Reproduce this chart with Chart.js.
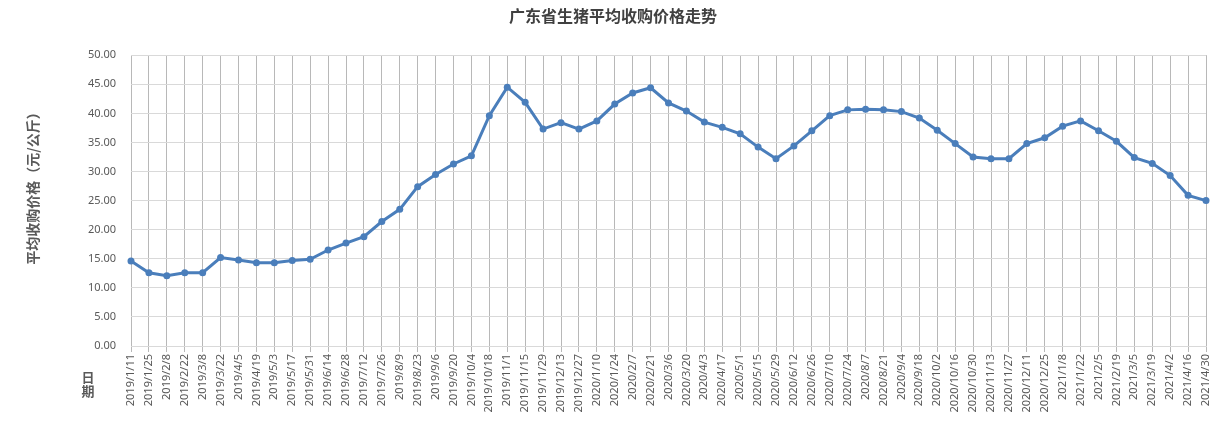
<!DOCTYPE html>
<html>
<head>
<meta charset="utf-8">
<script src="https://cdn.jsdelivr.net/npm/chart.js@4"></script>
<style>
  html, body { margin: 0; padding: 0; background: #fff; }
  #wrap { width: 1228px; height: 426px; }
</style>
</head>
<body>
<div id="wrap"><canvas id="lineChart"></canvas></div>
<script>
// data
const dates = [
  '2019/1/11', '2019/1/25', '2019/2/8', '2019/2/22', '2019/3/8', '2019/3/22', '2019/4/5', '2019/4/19',
  '2019/5/3', '2019/5/17', '2019/5/31', '2019/6/14', '2019/6/28', '2019/7/12', '2019/7/26', '2019/8/9',
  '2019/8/23', '2019/9/6', '2019/9/20', '2019/10/4', '2019/10/18', '2019/11/1', '2019/11/15', '2019/11/29',
  '2019/12/13', '2019/12/27', '2020/1/10', '2020/1/24', '2020/2/7', '2020/2/21', '2020/3/6', '2020/3/20',
  '2020/4/3', '2020/4/17', '2020/5/1', '2020/5/15', '2020/5/29', '2020/6/12', '2020/6/26', '2020/7/10',
  '2020/7/24', '2020/8/7', '2020/8/21', '2020/9/4', '2020/9/18', '2020/10/2', '2020/10/16', '2020/10/30',
  '2020/11/13', '2020/11/27', '2020/12/11', '2020/12/25', '2021/1/8', '2021/1/22', '2021/2/5', '2021/2/19',
  '2021/3/5', '2021/3/19', '2021/4/2', '2021/4/16', '2021/4/30'
];
const prices = [
  14.6, 12.6, 12.1, 12.6, 12.6, 15.2, 14.8, 14.3, 14.3, 14.7, 14.9, 16.5, 17.7, 18.8, 21.4, 23.5,
  27.4, 29.5, 31.3, 32.7, 39.6, 44.5, 41.9, 37.3, 38.4, 37.3, 38.7, 41.6, 43.5, 44.4, 41.8, 40.4,
  38.5, 37.6, 36.5, 34.2, 32.2, 34.4, 37.0, 39.6, 40.6, 40.7, 40.6, 40.3, 39.2, 37.1, 34.8, 32.5,
  32.2, 32.2, 34.8, 35.8, 37.8, 38.7, 37.0, 35.2, 32.4, 31.4, 29.3, 25.9, 25.0
];
const yTicks = { min: 0, max: 50, step: 5 };

const titleText = '广东省生猪平均收购价格走势';
const yTitle = '平均收购价格（元/公斤）';
const xTitle = ['日', '期'];

const cjk = '"Noto Sans CJK SC", "Noto Sans", sans-serif';
const tickFont = '"Noto Sans", "Liberation Sans", sans-serif';

// axis titles placed like the excel original: y title a bit above centre,
// x title at the bottom left, one character per line
const axisTitles = {
  id: 'axisTitles',
  afterDraw(chart) {
    const c = chart.ctx;
    c.save();
    c.fillStyle = '#595959';
    c.textAlign = 'center';
    c.textBaseline = 'middle';
    c.font = 'bold 13px ' + cjk;
    c.fillText(xTitle[0], 88, 377);
    c.fillText(xTitle[1], 88, 391);
    c.translate(33, 185);
    c.rotate(-Math.PI / 2);
    c.font = 'bold 14px ' + cjk;
    c.fillText(yTitle, 0, 0);
    c.restore();
  }
};

document.addEventListener('DOMContentLoaded', () => {
  const ctx = document.getElementById('lineChart');
  new Chart(ctx, {
    type: 'line',
    data: {
      labels: dates,
      datasets: [{
        data: prices,
        borderColor: '#4a7ebb',
        backgroundColor: '#4a7ebb',
        borderWidth: 3,
        pointRadius: 3.5,
        pointHoverRadius: 4,
        pointBorderWidth: 0,
        tension: 0
      }]
    },
    options: {
      responsive: true,
      maintainAspectRatio: false,
      animation: false,
      layout: { padding: { left: 20, right: 22, top: 0, bottom: 0 } },
      plugins: {
        legend: { display: false },
        tooltip: { enabled: false },
        title: {
          display: true,
          text: titleText,
          color: '#404040',
          font: { family: cjk, size: 16, weight: 'bold' },
          padding: { top: 6, bottom: 30 }
        }
      },
      scales: {
        x: {
          offset: false,
          grid: { color: '#b8b8b8', lineWidth: 1, drawTicks: true, tickLength: 6, tickColor: '#b8b8b8' },
          border: { color: '#d9d9d9' },
          ticks: {
            autoSkip: false,
            minRotation: 90,
            maxRotation: 90,
            padding: 2,
            color: '#595959',
            font: { family: tickFont, size: 11 }
          },
          afterFit(scale) { scale.height = 80; }
        },
        y: {
          min: yTicks.min,
          max: yTicks.max,
          grid: { color: '#d9d9d9', drawTicks: false },
          border: { display: false },
          ticks: {
            stepSize: yTicks.step,
            padding: 15,
            color: '#595959',
            font: { family: tickFont, size: 11 },
            callback: v => v.toFixed(2)
          },
          afterFit(scale) { scale.width = 111; }
        }
      }
    },
    plugins: [axisTitles]
  });
});
</script>
</body>
</html>
